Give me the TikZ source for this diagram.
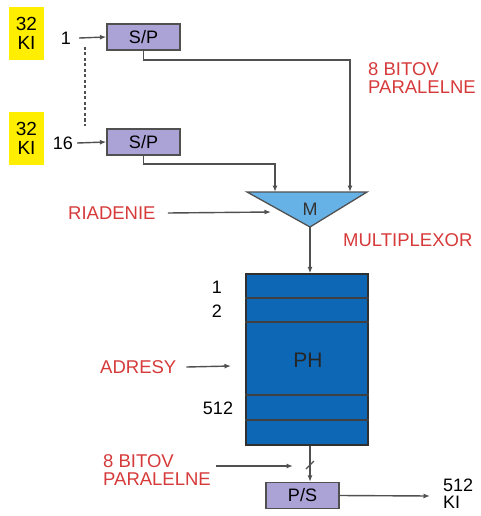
\documentclass[tikz,border=0pt]{standalone}
\usepackage{fontspec}
\setmainfont{Liberation Sans}
\usetikzlibrary{arrows.meta}
\definecolor{ylw}{HTML}{FFEE00}
\definecolor{lav}{HTML}{ABA2D6}
\definecolor{phblue}{HTML}{0D67B5}
\definecolor{mblue}{HTML}{66B2E6}
\definecolor{redt}{HTML}{D63A3A}
\definecolor{ln}{HTML}{505050}
\tikzset{
  conn/.style={draw=ln, line width=1.4pt, -{Latex[length=6.5pt,width=5pt]}},
  wire/.style={draw=ln, line width=1.3pt},
  spbox/.style={draw=ln, line width=1.3pt, fill=lav, minimum width=73pt, minimum height=26pt, inner sep=0pt, font=\fontsize{18}{18}\selectfont},
  ybox/.style={fill=ylw, minimum width=35pt, minimum height=53pt, inner sep=0pt, align=center, font=\fontsize{19}{19}\selectfont},
  lbl/.style={inner sep=0pt, font=\fontsize{18}{19}\selectfont},
  rlbl/.style={inner sep=0pt, text=redt, align=left, font=\fontsize{18.5}{18.5}\selectfont},
}
\begin{document}
\begin{tikzpicture}[x=1pt,y=-1pt]
\useasboundingbox (0,0) rectangle (481,516);
% yellow boxes
\node[ybox] (y1) at (26.5,33.5) {32\\KI};
\node[ybox] (y2) at (26.5,138.5) {32\\KI};
% S/P boxes
\node[spbox] (sp1) at (143.5,37) {S/P};
\node[spbox] (sp2) at (143.5,142) {S/P};
\node[lbl] (in1) at (66,38) {1};
\node[lbl] (in16) at (63,143) {16};
\draw[conn] (in1.east) ++(8,0) coordinate (a1) -- (sp1.west);
\draw[conn] (in16.east) ++(4,0) coordinate (a16) -- (sp2.west);
\coordinate (d1) at (85,47);
\coordinate (d2) at (85,126);
\draw[ln, line width=1.2pt, dash pattern=on 3pt off 2.5pt] (d1) -- (d2);
% multiplexer
\coordinate (mtl) at (247,192);
\coordinate (mtr) at (367,192);
\coordinate (map) at (310,227);
\draw[fill=mblue, draw=ln, line width=1.3pt] (mtl) -- (mtr) -- (map) -- cycle;
\node[lbl, font=\fontsize{18}{18}\selectfont, text=black!80] (M) at (310,209) {M};
\coordinate (min1) at (350,192);
\coordinate (min2) at (275,192);
\draw[conn] (sp1.south) |- (350,60) -- (min1);
\draw[conn] (sp2.south) |- (275,164) -- (min2);
\node[rlbl, anchor=north west] (bit1) at (368,62) {8 BITOV\\PARALELNE};
\node[rlbl, anchor=west] (ried) at (68,213) {RIADENIE};
\coordinate (rend) at (271,212);
\draw[conn] (ried.east) ++(12,0) -- (rend);
\node[rlbl, anchor=west] (mux) at (343,240) {MULTIPLEXOR};
% PH memory
\node[draw=ln!60!black, line width=1.3pt, fill=phblue, minimum width=122pt, minimum height=171pt, inner sep=0pt] (ph) at (307,359.5) {};
\node[lbl, font=\fontsize{21}{22}\selectfont, text=black!85] (phl) at (308,360) {PH};
\foreach \yy in {298,322,395,420} \draw[line width=1.3pt, draw=black!75] (ph.west |- 0,\yy) -- (ph.east |- 0,\yy);
\node[lbl] (r1) at (217,287) {1};
\node[lbl] (r2) at (217,311) {2};
\node[lbl] (r512) at (218,408) {512};
\draw[conn] (map) -- (ph.north -| map);
\node[rlbl, anchor=west] (adr) at (100,367) {ADRESY};
\coordinate (aend) at (231,366);
\draw[conn] (adr.east) ++(10,0) -- (aend);
% P/S
\node[spbox] (ps) at (302.5,495.5) {P/S};
\draw[conn] (ph.south -| 310,0) -- (ps.north -| 310,0);
\coordinate (s1) at (306,469);
\coordinate (s2) at (314,461);
\draw[wire] (s1) -- (s2);
\node[rlbl, anchor=north west] (bit2) at (103,454) {8 BITOV\\PARALELNE};
\coordinate (bend) at (293,466);
\draw[conn] (216,466) coordinate (bstart) -- (bend);
\node[lbl, anchor=west, align=left, font=\fontsize{18}{17}\selectfont] (out) at (443,494) {512\\KI};
\draw[conn] (ps.east) -- (430,496) coordinate (oend);
\end{tikzpicture}
\end{document}
